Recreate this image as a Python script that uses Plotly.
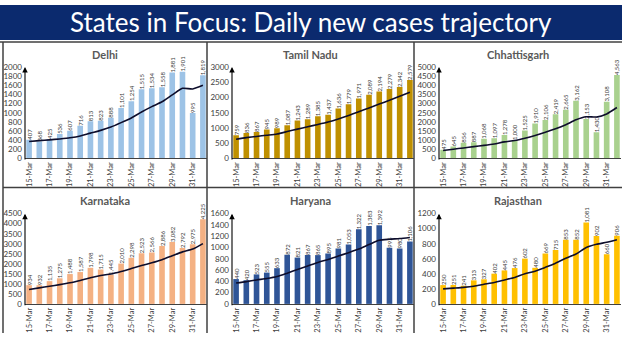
import plotly.graph_objects as go

# ---------------- data ----------------
dates = ["15-Mar", "16-Mar", "17-Mar", "18-Mar", "19-Mar", "20-Mar", "21-Mar", "22-Mar", "23-Mar",
         "24-Mar", "25-Mar", "26-Mar", "27-Mar", "28-Mar", "29-Mar", "30-Mar", "31-Mar", "1-Apr"]

states = ["Delhi", "Tamil Nadu", "Chhattisgarh", "Karnataka", "Haryana", "Rajasthan"]

delhi_cases = [407, 368, 425, 536, 607, 716, 813, 823, 888, 1101, 1254, 1515, 1534, 1558, 1881, 1901, 995, 1819]
delhi_trend = [370, 388, 405, 425, 450, 490, 553, 613, 687, 783, 886, 1016, 1133, 1239, 1390, 1535, 1520, 1600]

tn_cases = [759, 836, 867, 945, 989, 1087, 1243, 1289, 1385, 1437, 1636, 1779, 1971, 2089, 2194, 2279, 2342, 2579]
tn_trend = [630, 680, 720, 760, 800, 880, 961, 1037, 1115, 1196, 1295, 1408, 1534, 1655, 1784, 1912, 2041, 2176]

chh_cases = [475, 645, 856, 887, 1068, 1097, 1278, 1000, 1525, 1910, 2106, 2419, 2665, 3162, 2153, 1430, 3108, 4563]
chh_trend = [430, 500, 570, 640, 710, 790, 901, 976, 1102, 1252, 1426, 1619, 1843, 2112, 2277, 2264, 2435, 2786]

kar_cases = [934, 932, 1135, 1275, 1488, 1587, 1798, 1715, 1445, 2010, 2298, 2523, 2566, 2886, 3082, 2792, 2975, 4225]
kar_trend = [720, 800, 880, 960, 1050, 1170, 1307, 1419, 1492, 1617, 1763, 1911, 2051, 2206, 2401, 2594, 2732, 3007]

har_cases = [440, 420, 523, 555, 633, 872, 821, 867, 865, 895, 981, 1053, 1322, 1383, 1392, 995, 980, 1106]
har_trend = [370, 395, 425, 450, 485, 545, 609, 670, 734, 787, 848, 908, 972, 1052, 1127, 1146, 1158, 1176]

raj_cases = [250, 251, 241, 313, 327, 402, 445, 476, 602, 480, 669, 715, 853, 852, 1081, 902, 660, 906]
raj_trend = [200, 210, 220, 235, 260, 285, 318, 351, 401, 435, 486, 541, 606, 664, 750, 793, 819, 853]

y_max = [2000, 3000, 5000, 4500, 1600, 1200]
y_step = [200, 500, 500, 500, 200, 200]

bar_colors = ["#9DC3E6", "#BF9000", "#A9D18E", "#F4B183", "#2F5597", "#FFC000"]

all_cases = [delhi_cases, tn_cases, chh_cases, kar_cases, har_cases, raj_cases]
all_trend = [delhi_trend, tn_trend, chh_trend, kar_trend, har_trend, raj_trend]

# ---------------- layout geometry (pixels) ----------------
W, H = 622, 338
col_axis_px = [25, 232, 439]
plot_w_px = 182
row_zero_px = [158, 308]
row_top_px = [64, 215]
panel_left_px = [3, 207, 414]
panel_right_px = [207, 414, 622]
row_title_px = [51, 201]

def px_x(p):
    return p / W

def px_y(p):
    return 1 - p / H

FONT = "Lato"
TXT = "#404040"

fig = go.Figure()
annotations = []
shapes = []
layout_axes = {}

x_idx = list(range(len(dates)))

for i, st in enumerate(states):
    r, c = divmod(i, 3)
    n = i + 1
    xa = "x" if n == 1 else f"x{n}"
    ya = "y" if n == 1 else f"y{n}"
    xkey = "xaxis" if n == 1 else f"xaxis{n}"
    ykey = "yaxis" if n == 1 else f"yaxis{n}"

    fig.add_trace(go.Bar(
        x=x_idx, y=all_cases[i], xaxis=xa, yaxis=ya,
        marker=dict(color=bar_colors[i], line=dict(width=0)),
        width=0.55,
        texttemplate="%{y:,}", textposition="outside", textangle=-90,
        constraintext="none", cliponaxis=False,
        textfont=dict(family=FONT, size=6, color=TXT),
        hoverinfo="skip",
    ))
    fig.add_trace(go.Scatter(
        x=x_idx, y=all_trend[i], xaxis=xa, yaxis=ya, mode="lines",
        line=dict(color="#0D0D2B", width=1.6, shape="spline", smoothing=0.6),
        hoverinfo="skip", cliponaxis=False,
    ))

    ax_px = col_axis_px[c]
    layout_axes[xkey] = dict(
        domain=[px_x(ax_px), px_x(ax_px + plot_w_px)],
        anchor=ya, range=[-0.4, 17.4],
        tickmode="array", tickvals=x_idx[::2], ticktext=dates[::2],
        tickangle=-90, tickfont=dict(family=FONT, size=7.5, color=TXT),
        showline=True, linecolor="#404040", linewidth=1,
        showgrid=False, zeroline=False, ticks="",
        fixedrange=True,
    )
    layout_axes[ykey] = dict(
        domain=[px_y(row_zero_px[r]), px_y(row_top_px[r])],
        anchor=xa, range=[0, y_max[i]],
        tickmode="array", tickvals=list(range(0, y_max[i] + 1, y_step[i])),
        tickfont=dict(family=FONT, size=8, color=TXT),
        showline=False, showgrid=False, zeroline=False, ticks="",
        ticklabelstandoff=2, fixedrange=True,
    )

    # panel title
    annotations.append(dict(
        text=f"<b>{st}</b>", x=px_x((panel_left_px[c] + panel_right_px[c]) / 2),
        y=px_y(row_title_px[r]), xref="paper", yref="paper",
        showarrow=False, font=dict(family=FONT, size=11, color="#595959"),
        xanchor="center", yanchor="middle",
    ))
    # y axis arrow
    annotations.append(dict(
        text="", x=px_x(ax_px), y=px_y(row_top_px[r]), xref="paper", yref="paper",
        showarrow=True, arrowhead=2, arrowsize=1, arrowwidth=1.1, arrowcolor="#000000",
        ax=0, ay=row_zero_px[r] - row_top_px[r], axref="pixel", ayref="pixel",
    ))

# header bar
shapes.append(dict(type="rect", xref="paper", yref="paper", x0=0, x1=1,
                   y0=px_y(36), y1=1, fillcolor="#0B2A6E", line=dict(width=0), layer="below"))
annotations.append(dict(
    text="States in Focus: Daily new cases trajectory", x=0.5, y=px_y(18),
    xref="paper", yref="paper", showarrow=False,
    font=dict(family=FONT, size=26, color="white"), xanchor="center", yanchor="middle",
))

# panel borders
bc = "#404040"
shapes.append(dict(type="line", xref="paper", yref="paper", x0=0, x1=1,
                   y0=px_y(38), y1=px_y(38), line=dict(color=bc, width=1.5)))
shapes.append(dict(type="line", xref="paper", yref="paper", x0=px_x(3), x1=1,
                   y0=px_y(188), y1=px_y(188), line=dict(color=bc, width=1.5)))
for xp in [3, 207, 414]:
    shapes.append(dict(type="line", xref="paper", yref="paper", x0=px_x(xp), x1=px_x(xp),
                       y0=0, y1=px_y(38), line=dict(color=bc, width=1.5)))

fig.update_layout(
    width=W, height=H, margin=dict(l=0, r=0, t=0, b=0),
    paper_bgcolor="white", plot_bgcolor="white",
    showlegend=False, bargap=0.4,
    annotations=annotations, shapes=shapes,
    **layout_axes,
)

fig.write_html("out.html", config={"displayModeBar": False})
